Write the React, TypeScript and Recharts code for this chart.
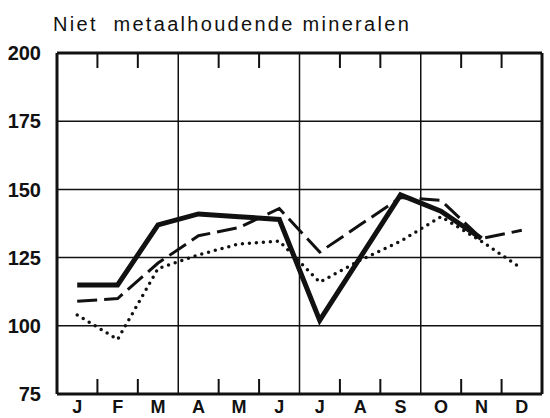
import React from "react";
import {
  LineChart, Line, XAxis, YAxis, CartesianGrid, ReferenceLine,
} from "recharts";

const months = ["J", "F", "M", "A", "M", "J", "J", "A", "S", "O", "N", "D"];
const solidSeries = [115, 115, 137, 141, 140, 139, 102, 125, 148, 142, 132, null];
const dashedSeries = [109, 110, 123, 133, 136, 143, 127, 137, 147, 146, 132, 135];
const dottedSeries = [104, 95, 121, 126, 130, 131, 116, 124, 131, 140, 131, 121];
const yTicks = [75, 100, 125, 150, 175, 200];
const yMinorTicks = [87.5, 112.5, 137.5, 162.5, 187.5];
const xLabelTicks = [0.5, 1.5, 2.5, 3.5, 4.5, 5.5, 6.5, 7.5, 8.5, 9.5, 10.5, 11.5];
const xMinorTicks = [1, 2, 4, 5, 7, 8, 10, 11];
const quarterLines = [3, 6, 9];

const data = months.map((m, i) => ({
  x: i + 0.5,
  solid: solidSeries[i],
  dashed: dashedSeries[i],
  dotted: dottedSeries[i],
}));

const font = "'Liberation Sans', Arial, sans-serif";
const blank = () => "";

export default function App() {
  return (
    <div style={{ position: "absolute", left: 0, top: 0, width: 550, height: 418, background: "#fff" }}>
      <div
        style={{
          position: "absolute", left: 53, top: 13, fontFamily: font, fontSize: 20,
          letterSpacing: 2.3, color: "#111", whiteSpace: "nowrap",
        }}
      >
        Niet&nbsp; metaalhoudende mineralen
      </div>
      <LineChart width={550} height={418} data={data} margin={{ top: 53, right: 8, left: 0, bottom: 0 }}>
        <CartesianGrid xAxisId="main" yAxisId="left" vertical={false} stroke="#111" strokeWidth={1.5} />
        {quarterLines.map((q) => (
          <ReferenceLine key={q} xAxisId="main" yAxisId="left" x={q} stroke="#111" strokeWidth={1.5} />
        ))}
        <XAxis
          xAxisId="main" dataKey="x" type="number" domain={[0, 12]} ticks={xLabelTicks}
          tickFormatter={(v) => months[Math.floor(v)]} tickLine={false} tickSize={0} height={24}
          axisLine={{ stroke: "#111", strokeWidth: 3 }}
          tick={{ fill: "#111", fontSize: 18, fontFamily: font, fontWeight: 700 }} tickMargin={6}
        />
        <XAxis
          xAxisId="bottomMinor" dataKey="x" type="number" domain={[0, 12]} ticks={xMinorTicks}
          mirror tickSize={15} axisLine={false} tickFormatter={blank}
          tickLine={{ stroke: "#111", strokeWidth: 2 }}
        />
        <XAxis
          xAxisId="top" orientation="top" dataKey="x" type="number" domain={[0, 12]} ticks={xMinorTicks}
          mirror tickSize={15} tickFormatter={blank}
          axisLine={{ stroke: "#111", strokeWidth: 3 }} tickLine={{ stroke: "#111", strokeWidth: 2 }}
        />
        <YAxis
          yAxisId="left" domain={[75, 200]} ticks={yTicks} width={57} tickLine={false}
          axisLine={{ stroke: "#111", strokeWidth: 3 }} tickMargin={10}
          tick={{ fill: "#111", fontSize: 20, fontFamily: font, fontWeight: 700 }}
        />
        <YAxis
          yAxisId="leftMinor" domain={[75, 200]} ticks={yMinorTicks} mirror tickSize={15}
          axisLine={false} tickFormatter={blank} tickLine={{ stroke: "#111", strokeWidth: 2 }}
        />
        <YAxis
          yAxisId="right" orientation="right" domain={[75, 200]} ticks={yMinorTicks} mirror tickSize={15}
          tickFormatter={blank} axisLine={{ stroke: "#111", strokeWidth: 3 }}
          tickLine={{ stroke: "#111", strokeWidth: 2 }}
        />
        <Line
          xAxisId="main" yAxisId="left" dataKey="dotted" stroke="#111" strokeWidth={3.5}
          strokeDasharray="0 7" strokeLinecap="round" dot={false} isAnimationActive={false}
        />
        <Line
          xAxisId="main" yAxisId="left" dataKey="dashed" stroke="#111" strokeWidth={3}
          strokeDasharray="20 7" dot={false} isAnimationActive={false}
        />
        <Line
          xAxisId="main" yAxisId="left" dataKey="solid" stroke="#111" strokeWidth={5}
          dot={false} isAnimationActive={false}
        />
      </LineChart>
    </div>
  );
}
